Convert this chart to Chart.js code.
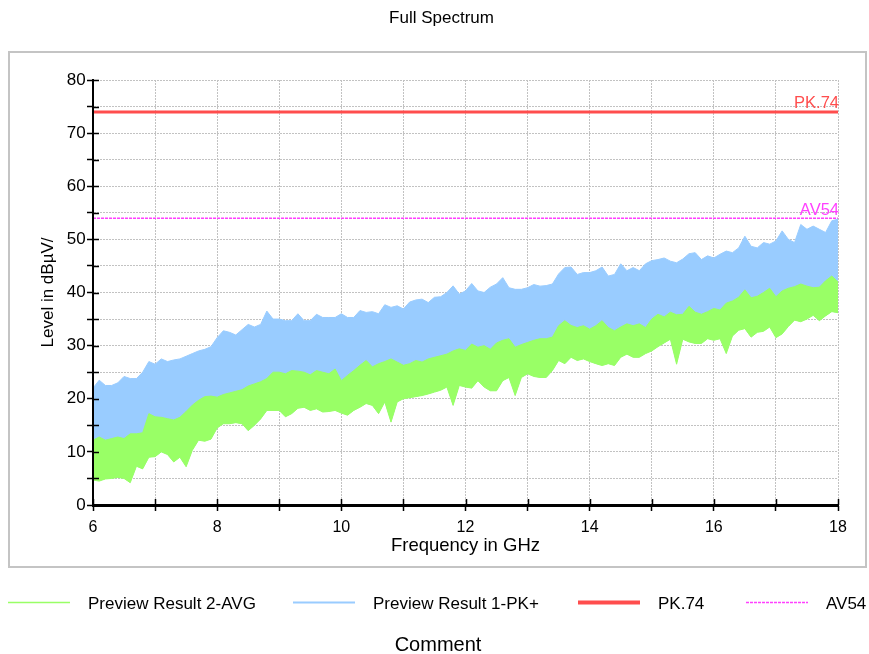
<!DOCTYPE html>
<html><head><meta charset="utf-8">
<script src="https://cdn.jsdelivr.net/npm/chart.js@4"></script>
<style>html,body{margin:0;padding:0;background:#fff;}canvas{display:block;}</style>
</head><body>
<canvas id="c" width="869" height="654"></canvas>
<script>
// ---- data ----
const freqGHz = [6.0,6.1,6.2,6.3,6.4,6.5,6.6,6.7,6.8,6.9,7.0,7.1,7.2,7.3,7.4,7.5,7.6,7.7,7.8,7.9,8.0,8.1,8.2,8.3,8.4,8.5,8.6,8.7,8.8,8.9,
9.0,9.1,9.2,9.3,9.4,9.5,9.6,9.7,9.8,9.9,10.0,10.1,10.2,10.3,10.4,10.5,10.6,10.7,10.8,10.9,11.0,11.1,11.2,11.3,11.4,11.5,11.6,11.7,11.8,11.9,
12.0,12.1,12.2,12.3,12.4,12.5,12.6,12.7,12.8,12.9,13.0,13.1,13.2,13.3,13.4,13.5,13.6,13.7,13.8,13.9,14.0,14.1,14.2,14.3,14.4,14.5,14.6,14.7,14.8,14.9,
15.0,15.1,15.2,15.3,15.4,15.5,15.6,15.7,15.8,15.9,16.0,16.1,16.2,16.3,16.4,16.5,16.6,16.7,16.8,16.9,17.0,17.1,17.2,17.3,17.4,17.5,17.6,17.7,17.8,17.9,18.0];

// Preview Result 1-PK+ : upper envelope (dBµV)
const pkPlusHigh = [22,23.5,22.5,22.5,23,24.2,23.8,23.8,25,27,26.5,27.5,27,27.3,27.5,28,28.5,29,29.3,29.8,31.5,32.8,32.5,32,33,34,33.5,34,36.5,35,
35,34.7,34.7,36,34.7,34.7,35.9,35.3,35.3,35.3,36,35.3,35.3,36.6,36.25,36.4,36,37.7,37.2,37.5,36.9,38.2,38.6,38.75,38.1,39.1,39.2,40,41.25,39.7,
40.3,41.7,40.3,40,41,41.6,42.8,40.9,40.6,40.6,40.9,41.5,41.2,41.3,41.6,43.5,44.7,44.8,43.4,43.75,43.75,44.1,44.8,43.1,43.4,45.4,44.1,44.7,44.1,45.4,
46,46.2,46.5,45.9,45.6,46.3,47.3,47.5,46.2,46.9,46.5,47.2,47.8,47.5,48.4,50.6,48.7,48.4,49.4,49.1,49.7,51.6,50,49.4,52.8,51.9,52.5,51.9,51.3,53.5,53.8];

// Preview Result 2-AVG : upper and lower envelopes (dBµV)
const avgHigh = [12.2,12.8,12.2,12.5,12.8,12.5,13.4,13.4,13.6,17.2,16.6,16.5,16.25,16,16.5,17.6,18.8,19.7,20.4,20.5,20.3,20.8,21.1,21.4,21.7,22.4,22.8,23.2,23.8,25,
25,24.7,25.3,25.2,25,24.5,25.3,25,24.7,25.6,23.4,24.4,25.3,26.3,27.2,26,26.6,27,27.5,26.9,26.3,26.6,27.2,26.9,27.5,27.8,28.1,28.4,29,29.4,
29.1,30.3,29.7,30,29.3,30.5,31,31.3,29.7,30.2,30.6,31,31.3,31.3,31.6,33.75,34.7,33.8,33.4,33.75,33.1,33.75,34.7,33.4,32.8,33.5,34.1,33.75,34.1,33.4,
35,35.9,35.4,36.3,35.8,35.9,37.4,36.3,35.9,36.4,37,36.7,38,38.4,39.1,40.5,39,39.3,40,40.8,39.2,40.3,40.8,41.1,41.6,41.2,40.9,41,42.2,43.1,42];

const avgLow = [4.7,4.5,4.9,5,5.2,5,4.2,7.3,6.8,9,9.1,10,9.5,8.1,9,7.2,10.3,12.2,12,12.4,14.5,15.3,15.3,15.5,15.3,14,15,16.2,17.8,17.8,
17.8,16.6,17.2,18.2,18.4,17.8,18.1,17.5,17.6,17.8,17.3,16.9,17.8,18.4,19.1,18.75,17.2,19.4,15.6,19.4,20,20.2,20.4,20.6,20.9,21.25,21.6,22.2,18.75,22.5,
22.2,22,23.4,22.2,21.5,21.5,23.4,24,20.6,24,24.7,24.2,24,24,25.3,27.2,26.6,27.8,27.2,27.5,27,26.6,26.25,26.6,26.25,27.8,28.4,27.8,27.8,28.5,
29,29.8,30.5,31.2,26.5,31.2,30.7,30.4,30.4,31.3,31,31.3,28.5,31.8,32.9,33.2,31.6,32.5,32.7,33.5,31.5,32.2,33.6,34.8,34.5,35,35.7,34.7,35.6,36.4,36.2];

const limitNames = ['PK.74', 'AV54'];
const limitLevels = [74, 54];
const seriesNames = ['Preview Result 2-AVG', 'Preview Result 1-PK+'];
const xTickValues = [6, 8, 10, 12, 14, 16, 18];
const yTickValues = [0, 10, 20, 30, 40, 50, 60, 70, 80];
const commentText = 'Comment';

// ---- styles ----
const GREEN = 'rgb(153,255,102)';
const BLUE = 'rgb(153,204,255)';
const RED = 'rgb(255,77,77)';
const MAGENTA = 'rgb(255,64,255)';
const FONT = "'Liberation Sans', Arial, Helvetica, sans-serif";

const pts = (ys) => ys.map((y, i) => ({x: freqGHz[i], y}));
const flat = (v) => [{x: freqGHz[0], y: v}, {x: freqGHz[freqGHz.length - 1], y: v}];

Chart.defaults.font.family = FONT;
Chart.defaults.color = '#000';

const legendItems = [
  {text: seriesNames[0], color: GREEN, width: 1.5, dash: [], x: 8},
  {text: seriesNames[1], color: BLUE, width: 2, dash: [], x: 293},
  {text: limitNames[0], color: RED, width: 4, dash: [], x: 578},
  {text: limitNames[1], color: MAGENTA, width: 1.5, dash: [3, 1], x: 746}
];

const decor = {
  id: 'decor',
  beforeDraw(chart) {
    const ctx = chart.ctx;
    ctx.save();
    ctx.strokeStyle = '#c4c4c4';
    ctx.lineWidth = 2;
    ctx.strokeRect(9, 52, 857, 515);
    ctx.restore();
  },
  afterDatasetsDraw(chart) {
    const ctx = chart.ctx;
    const xs = chart.scales.x, ys = chart.scales.y;
    const ca = chart.chartArea;
    ctx.save();
    ctx.strokeStyle = '#000';
    ctx.lineWidth = 2;
    ctx.beginPath();
    ctx.moveTo(ca.left, ca.top - 1);
    ctx.lineTo(ca.left, ca.bottom + 1);
    ctx.lineTo(ca.right, ca.bottom + 1);
    ctx.stroke();
    ctx.lineWidth = 1.5;
    ctx.beginPath();
    ys.ticks.forEach(t => {
      const py = Math.round(ys.getPixelForValue(t.value)) + 0.5;
      ctx.moveTo(ca.left, py); ctx.lineTo(ca.left + 6, py);
    });
    xs.ticks.forEach(t => {
      const px = Math.round(xs.getPixelForValue(t.value)) + 0.5;
      ctx.moveTo(px, ca.bottom); ctx.lineTo(px, ca.bottom - 6);
    });
    ctx.stroke();
    ctx.font = '16.5px ' + FONT;
    ctx.textAlign = 'right';
    ctx.textBaseline = 'alphabetic';
    const xr = xs.getPixelForValue(freqGHz[freqGHz.length - 1]) + 1;
    ctx.fillStyle = RED;
    ctx.fillText(limitNames[0], xr, ys.getPixelForValue(limitLevels[0]) - 3.5);
    ctx.fillStyle = MAGENTA;
    ctx.fillText(limitNames[1], xr, ys.getPixelForValue(limitLevels[1]) - 3);
    ctx.restore();
  },
  afterDraw(chart) {
    const ctx = chart.ctx;
    ctx.save();
    ctx.font = '17px ' + FONT;
    const lineLen = 62, gapText = 18;
    const yLine = 602.5, yText = 604;
    legendItems.forEach((it) => {
      ctx.strokeStyle = it.color;
      ctx.lineWidth = it.width;
      ctx.setLineDash(it.dash);
      ctx.beginPath();
      ctx.moveTo(it.x, yLine); ctx.lineTo(it.x + lineLen, yLine);
      ctx.stroke();
      ctx.setLineDash([]);
      ctx.fillStyle = '#000';
      ctx.textAlign = 'left';
      ctx.textBaseline = 'middle';
      ctx.fillText(it.text, it.x + lineLen + gapText, yText);
    });
    ctx.font = '20px ' + FONT;
    ctx.textAlign = 'center';
    ctx.fillText(commentText, 438, 645.5);
    ctx.restore();
  }
};

const gridOpts = {color: '#c2c2c2', lineWidth: 1, tickLength: 6, tickColor: '#000', tickWidth: 1.5, tickBorderDash: []};
const borderOpts = {display: true, color: '#000', width: 2, dash: [2, 1]};

new Chart(document.getElementById('c'), {
  type: 'line',
  data: {
    datasets: [
      {label: seriesNames[0], data: pts(avgHigh), borderColor: GREEN, backgroundColor: GREEN, borderWidth: 1, fill: 1},
      {label: seriesNames[0] + ' low', data: pts(avgLow), borderColor: GREEN, backgroundColor: GREEN, borderWidth: 1, fill: false},
      {label: seriesNames[1], data: pts(pkPlusHigh), borderColor: BLUE, backgroundColor: BLUE, borderWidth: 1, fill: 1},
      {label: limitNames[0], data: flat(limitLevels[0]), borderColor: RED, borderWidth: 3, fill: false},
      {label: limitNames[1], data: flat(limitLevels[1]), borderColor: MAGENTA, borderWidth: 1.5, borderDash: [3, 1], fill: false}
    ]
  },
  options: {
    responsive: false,
    animation: false,
    devicePixelRatio: 1,
    elements: {point: {radius: 0, hoverRadius: 0}, line: {tension: 0}},
    layout: {padding: {left: 14, right: 0, top: 0, bottom: 0}},
    plugins: {
      legend: {display: false},
      tooltip: {enabled: false},
      title: {display: true, text: 'Full Spectrum', color: '#000',
        font: {size: 17, weight: 'normal', lineHeight: 1}, padding: {top: 10.3, bottom: 52.7}}
    },
    scales: {
      x: {
        type: 'linear', min: 6, max: 18,
        afterFit: (s) => { s.height = 149; },
        ticks: {stepSize: 1, autoSkip: false, maxRotation: 0, color: '#000', padding: 8.5,
          font: {size: 16, lineHeight: 1},
          callback: (v) => xTickValues.includes(v) ? String(v) : ''},
        grid: gridOpts,
        border: borderOpts,
        title: {display: true, text: 'Frequency in GHz', color: '#000',
          font: {size: 18.5, lineHeight: 1}, padding: {top: 0.75, bottom: 99.25}}
      },
      y: {
        min: 0, max: 80,
        afterFit: (s) => { s.width = 79; },
        ticks: {stepSize: 5, color: '#000', padding: 1.3, font: {size: 17, lineHeight: 1},
          callback: (v) => yTickValues.includes(v) ? String(v) : ''},
        grid: gridOpts,
        border: borderOpts,
        title: {display: true, text: 'Level in dBµV/', color: '#000',
          font: {size: 17, lineHeight: 1}, padding: {top: 25.5, bottom: 0}}
      },
      yRight: {
        position: 'right', min: 0, max: 80, display: true,
        afterFit: (s) => { s.width = 31; },
        grid: {display: false, drawTicks: false},
        ticks: {display: false},
        border: {display: false}
      }
    }
  },
  plugins: [decor]
});
</script>
</body></html>
